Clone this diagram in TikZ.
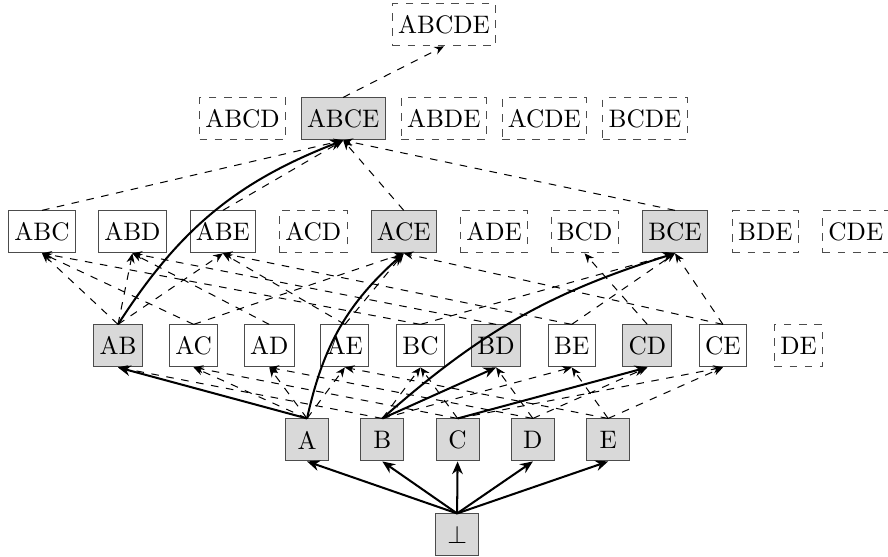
\documentclass[tikz,border=0pt]{standalone}
\usetikzlibrary{arrows.meta}
\begin{document}
\begin{tikzpicture}[>={Stealth[length=3.8pt,width=3.2pt]},
    box/.style={draw=black!70,minimum height=16.6pt,minimum width=17pt,inner xsep=2.3pt},
    graybox/.style={box,fill=gray!30},
    whitebox/.style={box,fill=white},
    dashbox/.style={box,dashed},
    lat/.style={->,dashed},
    walk/.style={-{Stealth[length=5pt,width=4.2pt]},thick}]
    \useasboundingbox (0,0) rectangle (12.34,7.74);
    % nodes, row by row
    \node[dashbox] (ABCDE) at (6.17,7.395) {ABCDE};
    \foreach \n/\s [count=\i from 0] in {ABCD/dashbox,ABCE/graybox,ABDE/dashbox,ACDE/dashbox,BCDE/dashbox}
        \node[\s] (\n) at ({3.371+1.398*\i},6.088) {\n};
    \foreach \n/\s [count=\i from 0] in {ABC/whitebox,ABD/whitebox,ABE/whitebox,ACD/dashbox,ACE/graybox,
            ADE/dashbox,BCD/dashbox,BCE/graybox,BDE/dashbox,CDE/dashbox}
        \node[\s] (\n) at ({0.584+1.2566*\i},4.518) {\n};
    \foreach \n/\s [count=\i from 0] in {AB/graybox,AC/whitebox,AD/whitebox,AE/whitebox,BC/whitebox,
            BD/graybox,BE/whitebox,CD/graybox,CE/whitebox,DE/dashbox}
        \node[\s] (\n) at ({1.64+1.0508*\i},2.933) {\n};
    \foreach \n [count=\i from 0] in {A,B,C,D,E}
        \node[graybox] (\n) at ({4.267+1.046*\i},1.626) {\n};
    \node[graybox] (bot) at (6.352,0.306) {$\bot$};
    % dashed lattice edges
    \foreach \a/\b in {A/AC,A/AD,A/AE,B/AB,B/BC,B/BE,C/AC,C/BC,C/CE,D/AD,D/BD,D/CD,E/AE,E/BE,E/CE,
            AB/ABC,AB/ABD,AB/ABE,AC/ABC,AC/ACE,AD/ABD,AE/ABE,AE/ACE,BC/ABC,BC/BCE,BD/ABD,
            BE/ABE,BE/BCE,CD/BCD,CE/ACE,CE/BCE,ABC/ABCE,ABE/ABCE,ACE/ABCE,BCE/ABCE,ABCE/ABCDE}
        \draw[lat] (\a.north) -- (\b.south);
    % solid steps
    \foreach \b in {A,B,C,D,E}
        \draw[walk] (bot.north) -- (\b.south);
    \draw[walk] (A.north) -- (AB.south);
    \draw[walk] (B.north) -- (BD.south);
    \draw[walk] (C.north) -- (CD.south);
    \draw[walk] (A.north) to[bend left=18] (ACE.south);
    \draw[walk] (B.north) to[bend left=12] (BCE.south);
    \draw[walk] (AB.north) to[bend left=18] (ABCE.south);
\end{tikzpicture}
\end{document}
